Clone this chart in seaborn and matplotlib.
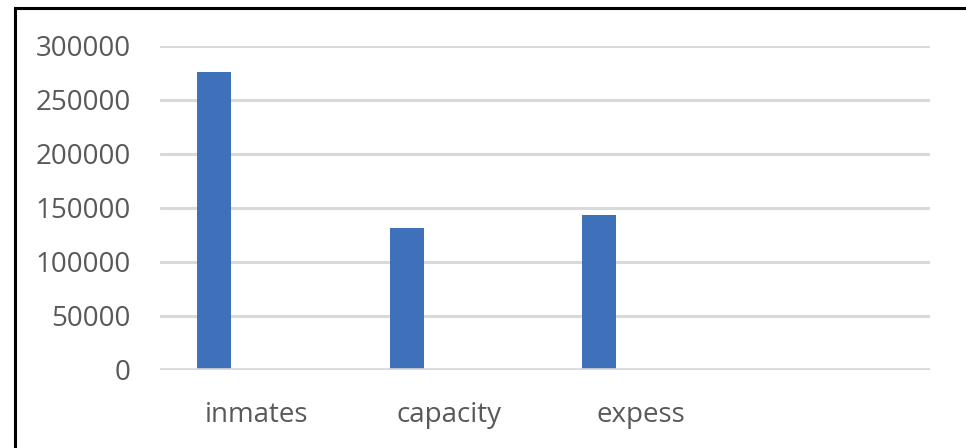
import matplotlib
matplotlib.use("Agg")
import matplotlib.pyplot as plt
import seaborn as sns
import pandas as pd
import numpy as np
from matplotlib.patches import Rectangle

categories = ["inmates", "capacity", "expess", ""]
values = [276000, 131000, 143000, np.nan]
yticks = [0, 50000, 100000, 150000, 200000, 250000, 300000]

df = pd.DataFrame({"category": categories, "value": values})

sns.set_theme(style="white")
plt.rcParams["font.family"] = ["Open Sans", "DejaVu Sans"]

fig = plt.figure(figsize=(9.66, 4.48), dpi=100)
ax = fig.add_axes([160 / 966, 1 - 370 / 448, 770 / 966, (370 - 45.7) / 448])

bar_w = 34 / 192.5
sns.barplot(data=df, x="category", y="value", order=categories,
            color="#3E71B9", saturation=1, width=bar_w, ax=ax, zorder=3,
            edgecolor="none")

# Excel-style: bars sit left of the category centre
offset = 42 / 192.5
ax.set_xlim(-0.5 + offset, len(categories) - 0.5 + offset)
ax.set_xticks(np.arange(len(categories)) + offset, categories)
ax.set_ylim(0, 300000)
ax.set_yticks(yticks, [str(t) for t in yticks])

for y in yticks:
    ax.axhline(y, color="#D9D9D9", lw=2.2 if y else 2.6, zorder=1 if y else 4)

for s in ax.spines.values():
    s.set_visible(False)
ax.tick_params(axis="both", length=0, labelsize=20, labelcolor="#595959")
ax.tick_params(axis="y", pad=21)
ax.tick_params(axis="x", pad=22)
ax.set_xlabel("")
ax.set_ylabel("")
ax.grid(False)

# outer chart frame (only top and left visible)
fig.patches.append(Rectangle((14.5 / 966, -0.2), 1.2, 1 - 7.5 / 448 + 0.2,
                             transform=fig.transFigure, fill=False,
                             edgecolor="black", lw=2.2, clip_on=False))

fig.savefig("out.png", dpi=100)
